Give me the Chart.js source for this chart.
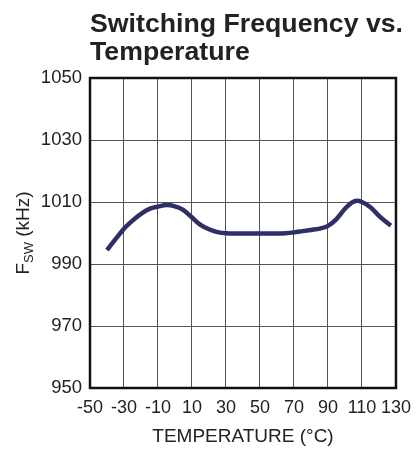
<!DOCTYPE html>
<html>
<head>
<meta charset="utf-8">
<script src="https://cdn.jsdelivr.net/npm/chart.js@4.4.0/dist/chart.umd.min.js"></script>
<style>
  html, body { margin: 0; padding: 0; background: #fff; }
  #wrap { width: 420px; height: 450px; }
</style>
</head>
<body>
<div id="wrap"><canvas id="fswChart" width="420" height="450"></canvas></div>
<script>
// temperature (°C) and switching frequency (kHz)
var temps = [-40, -35, -30, -25, -20, -15, -10, -5, 0, 5, 10, 15, 20, 25, 30, 40, 50, 60, 65, 70, 75, 80, 85, 90, 95, 100, 104, 107, 110, 115, 120, 125, 127];
var fsw = [994.5, 998, 1001.4, 1004, 1006.2, 1007.8, 1008.5, 1009, 1008.6, 1007.4, 1005, 1002.6, 1001.2, 1000.3, 999.9, 999.8, 999.8, 999.8, 999.9, 1000.2, 1000.6, 1001, 1001.4, 1002.3, 1004.5, 1007.8, 1009.8, 1010.4, 1010, 1008.3, 1005.5, 1003.2, 1002.4];
var xTicks = [-50, -30, -10, 10, 30, 50, 70, 90, 110, 130];
var yTicks = [950, 970, 990, 1010, 1030, 1050];
var titleLines = ['Switching Frequency vs.', 'Temperature'];

var points = [];
for (var i = 0; i < temps.length; i++) {
  points.push({x: temps[i], y: fsw[i]});
}

// title, y-axis label (with subscript) and plot frame
var extras = {
  id: 'extras',
  afterDraw: function(chart) {
    var ctx = chart.ctx;
    var area = chart.chartArea;
    ctx.save();
    ctx.strokeStyle = '#111';
    ctx.lineWidth = 2.5;
    ctx.strokeRect(area.left, area.top, area.right - area.left, area.bottom - area.top);

    ctx.fillStyle = '#222';
    ctx.font = 'bold 26px "Liberation Sans", Arial, sans-serif';
    ctx.textBaseline = 'alphabetic';
    ctx.textAlign = 'left';
    var w = ctx.measureText(titleLines[0]).width;
    var sx = Math.min(1.03, 313 / w);
    ctx.save();
    ctx.translate(area.left, 0);
    ctx.scale(sx, 1);
    ctx.fillText(titleLines[0], 0, 31.5);
    ctx.fillText(titleLines[1], 0, 60);
    ctx.restore();

    ctx.translate(29, (area.top + area.bottom) / 2);
    ctx.rotate(-Math.PI / 2);
    var big = '19px "Liberation Sans", Arial, sans-serif';
    var small = '13px "Liberation Sans", Arial, sans-serif';
    ctx.font = big;
    var wF = ctx.measureText('F').width;
    var wK = ctx.measureText(' (kHz)').width;
    ctx.font = small;
    var wS = ctx.measureText('SW').width;
    var x0 = -(wF + wS + wK) / 2;
    ctx.font = big;
    ctx.fillText('F', x0, 0);
    ctx.font = small;
    ctx.fillText('SW', x0 + wF, 4);
    ctx.font = big;
    ctx.fillText(' (kHz)', x0 + wF + wS, 0);
    ctx.restore();
  }
};

var ctx = document.getElementById('fswChart');
var chart = new Chart(ctx, {
  type: 'line',
  data: {
    datasets: [{
      label: 'FSW',
      data: points,
      borderColor: '#2e2f66',
      borderWidth: 4.5,
      pointRadius: 0,
      tension: 0.4,
      cubicInterpolationMode: 'monotone',
      fill: false
    }]
  },
  options: {
    responsive: false,
    animation: false,
    layout: { padding: { top: 78, right: 19, bottom: 0, left: 0 } },
    plugins: { legend: { display: false }, tooltip: { enabled: false } },
    scales: {
      x: {
        type: 'linear',
        min: -50,
        max: 130,
        afterBuildTicks: function(axis) {
          axis.ticks = xTicks.map(function(v) { return {value: v}; });
        },
        afterFit: function(axis) { axis.height = 62; },
        grid: { color: '#555', lineWidth: 1, drawTicks: false },
        border: { display: false },
        ticks: { padding: 9, color: '#222', font: { size: 18, family: '"Liberation Sans", Arial, sans-serif' }, maxRotation: 0, autoSkip: false, callback: function(v) { return String(v); } },
        title: { display: true, text: 'TEMPERATURE (°C)', color: '#222', padding: { top: 0, bottom: 2 }, font: { size: 19, family: '"Liberation Sans", Arial, sans-serif' } }
      },
      y: {
        min: 950,
        max: 1050,
        afterBuildTicks: function(axis) {
          axis.ticks = yTicks.map(function(v) { return {value: v}; });
        },
        afterFit: function(axis) { axis.width = 90; },
        grid: { color: '#555', lineWidth: 1, drawTicks: false },
        border: { display: false },
        ticks: { padding: 8, color: '#222', font: { size: 18.5, family: '"Liberation Sans", Arial, sans-serif' }, callback: function(v) { return String(v); } }
      }
    }
  },
  plugins: [extras]
});
</script>
</body>
</html>
